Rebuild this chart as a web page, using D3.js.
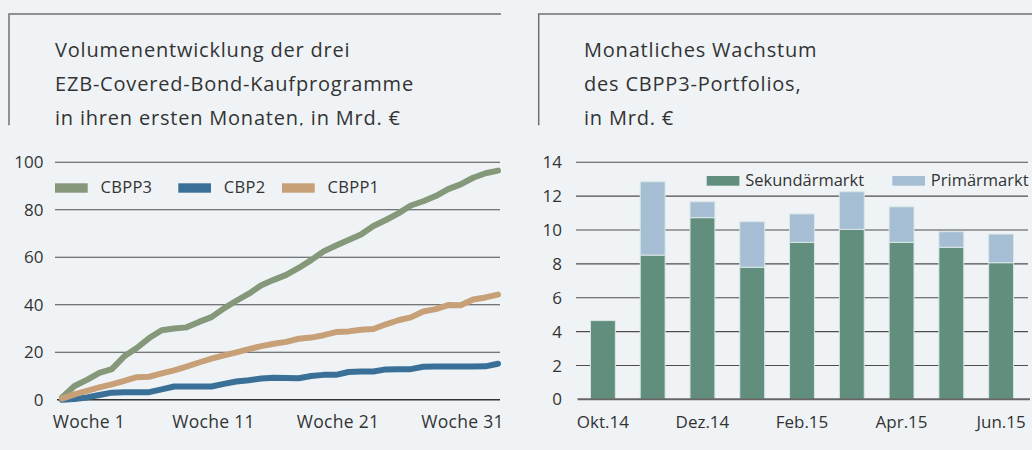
<!DOCTYPE html>
<html><head><meta charset="utf-8">
<script src="https://cdn.jsdelivr.net/npm/d3@7"></script>
<style>
body{margin:0;background:#eff3f6;}
svg{display:block;font-family:"Open Sans",sans-serif;}
</style></head><body>
<svg id="c" width="1032" height="450"></svg>
<script>
// ---------- Left chart data ----------
const weekIndex = [0,1,2,3,4,5,6,7,8,9,10,11,12,13,14,15,16,17,18,19,20,21,22,23,24,25,26,27,28,29,30,31,32,33,34,35];
const cbpp3 = [1,5.8,8.4,11.3,12.9,18.3,21.8,26,29.3,30,30.5,32.8,34.8,38.5,41.7,44.7,48.2,50.5,52.6,55.5,58.8,62.5,65,67.3,69.6,73.2,75.7,78.5,81.8,83.6,85.8,88.7,90.7,93.5,95.4,96.5];
const cbp2  = [0,0.3,1,2,3,3.2,3.2,3.2,4.4,5.6,5.6,5.6,5.6,6.7,7.7,8.2,9,9.3,9.2,9.1,10,10.5,10.5,11.7,11.9,11.9,12.8,12.9,12.9,13.9,14,14,14,14,14.1,15.2];
const cbpp1 = [0.5,2.3,3.8,5.2,6.5,8,9.5,9.7,11.1,12.4,14,15.7,17.3,18.7,20,21.3,22.6,23.6,24.4,25.7,26.2,27.2,28.5,28.8,29.5,29.8,31.8,33.5,34.7,37.2,38.2,39.9,39.8,42.2,43.1,44.3];
const weekTickIndex = [2,12,22,32];
const weekTickLabels = ["Woche 1","Woche 11","Woche 21","Woche 31"];
const leftYTicks = [0,20,40,60,80,100];
const leftSeriesNames = ["CBPP3","CBP2","CBPP1"];
const leftTitle = ["Volumenentwicklung der drei","EZB-Covered-Bond-Kaufprogramme","in ihren ersten Monaten, in Mrd. €"];

// ---------- Right chart data ----------
const months = ["Okt.14","Nov.14","Dez.14","Jan.15","Feb.15","Mrz.15","Apr.15","Mai.15","Jun.15"];
const sekundaer = [4.65,8.52,10.73,7.8,9.27,10.04,9.27,8.98,8.07];
const primaer   = [0,4.33,0.94,2.69,1.68,2.22,2.1,0.92,1.69];
const monthTickLabels = ["Okt.14","Dez.14","Feb.15","Apr.15","Jun.15"];
const rightYTicks = [0,2,4,6,8,10,12,14];
const rightSeriesNames = ["Sekundärmarkt","Primärmarkt"];
const rightTitle = ["Monatliches Wachstum","des CBPP3-Portfolios,","in Mrd. €"];

const svg = d3.select("#c");
const textCol = "#333";
const gridCol = "#4d4d4d";

// Title frames
function titleBlock(x0, x1, tx, lines, id){
  svg.append("clipPath").attr("id", id).append("rect")
    .attr("x", x0 - 2).attr("y", 0).attr("width", x1 - x0 + 4).attr("height", 125.5);
  const g = svg.append("g").attr("clip-path", `url(#${id})`);
  g.append("path").attr("d", `M${x0},125.5V14H${x1}`).attr("fill","none")
    .attr("stroke","#707070").attr("stroke-width",1.5);
  g.selectAll("text.t").data(lines).join("text").attr("class","t")
    .attr("x", tx).attr("y", (d,i) => 57 + i*34)
    .attr("fill", textCol).style("font-size","20px").style("letter-spacing","0.8px")
    .text(d => d);
}
titleBlock(9, 501, 55, leftTitle, "clipL");
titleBlock(538.7, 1034, 584, rightTitle, "clipR");

// ---------- Left chart ----------
const xL = d3.scaleLinear().domain([0, 35]).range([62, 498]);
const yL = d3.scaleLinear().domain([0, 100]).range([399.8, 162.3]);
const gL = svg.append("g");
gL.selectAll("line.grid").data(leftYTicks).join("line").attr("class","grid")
  .attr("x1", d => d === 0 ? 57 : 55).attr("x2", 500)
  .attr("y1", d => yL(d)).attr("y2", d => yL(d))
  .attr("stroke", d => d === 0 ? "#333" : gridCol).attr("stroke-width", d => d===0?1.6:1.1);
gL.selectAll("text.yt").data(leftYTicks).join("text").attr("class","yt")
  .attr("x", 43.5).attr("y", d => yL(d)).attr("dy","0.36em").attr("text-anchor","end")
  .attr("fill", textCol).style("font-size","17px").text(d => d);
gL.selectAll("text.xt").data(weekTickIndex).join("text").attr("class","xt")
  .attr("x", d => xL(d) + 2).attr("y", 428).attr("text-anchor","middle")
  .attr("fill", textCol).style("font-size","17.5px").style("letter-spacing","0.3px")
  .text((d,i) => weekTickLabels[i]);

const leftColors = ["#85987a","#3a7098","#c8a077"];
const leftData = [cbpp3, cbp2, cbpp1];
const line = d3.line().x((d,i) => xL(weekIndex[i])).y(d => yL(d));
gL.selectAll("path.s").data(leftData).join("path").attr("class","s")
  .attr("d", line).attr("fill","none")
  .attr("stroke", (d,i) => leftColors[i]).attr("stroke-width", 6)
  .attr("stroke-linecap","round").attr("stroke-linejoin","round");

// left legend
const legLX = [55, 178.3, 282];
const legL = gL.selectAll("g.leg").data(leftSeriesNames).join("g").attr("class","leg")
  .attr("transform", (d,i) => `translate(${legLX[i]},0)`);
legL.append("rect").attr("x",0).attr("y",183.3).attr("width",32.7).attr("height",9.4)
  .attr("fill", (d,i) => leftColors[i]);
legL.append("text").attr("x", 45.5).attr("y", 192.5).attr("fill", textCol)
  .style("font-size","16.5px").style("letter-spacing","0.3px").text(d => d);

// ---------- Right chart ----------
const xR = d3.scaleBand().domain(months).range([578, 1026]).paddingInner(0.5).paddingOuter(0.25);
const yR = d3.scaleLinear().domain([0, 14]).range([399.3, 162.3]);
const gR = svg.append("g");
gR.selectAll("line.grid").data(rightYTicks.filter(d => d > 0)).join("line").attr("class","grid")
  .attr("x1", 576).attr("x2", 1028)
  .attr("y1", d => yR(d)).attr("y2", d => yR(d))
  .attr("stroke", gridCol).attr("stroke-width", 1.1);
gR.selectAll("text.yt").data(rightYTicks).join("text").attr("class","yt")
  .attr("x", 562).attr("y", d => yR(d)).attr("dy","0.36em").attr("text-anchor","end")
  .attr("fill", textCol).style("font-size","17px").text(d => d);

const stack = d3.stack().keys([0,1]).value((d,k) => k === 0 ? d.s : d.p);
const rows = months.map((m,i) => ({m, s: sekundaer[i], p: primaer[i]}));
const layers = stack(rows);
const rightColors = ["#628e7e","#a6bed3"];
gR.selectAll("g.layer").data(layers).join("g").attr("class","layer")
  .attr("fill", (d,i) => rightColors[i])
  .selectAll("rect").data(d => d.filter(v => v[1] - v[0] > 0)).join("rect")
  .attr("x", d => xR(d.data.m)).attr("width", xR.bandwidth())
  .attr("y", d => yR(d[1])).attr("height", d => yR(d[0]) - yR(d[1]))
  .attr("stroke","#d9e6e6").attr("stroke-width",1);
gR.append("line").attr("x1",577.5).attr("x2",1030).attr("y1",yR(0)).attr("y2",yR(0))
  .attr("stroke","#666").attr("stroke-width",2);
gR.selectAll("text.xt").data(monthTickLabels).join("text").attr("class","xt")
  .attr("x", d => xR(d) + xR.bandwidth()/2).attr("y", 428).attr("text-anchor","middle")
  .attr("fill", textCol).style("font-size","17px").text(d => d);

const legRX = [706.7, 892.3];
const legR = gR.selectAll("g.leg").data(rightSeriesNames).join("g").attr("class","leg")
  .attr("transform", (d,i) => `translate(${legRX[i]},0)`);
legR.append("rect").attr("x",0).attr("y",176).attr("width",32.7).attr("height",9.7)
  .attr("fill", (d,i) => rightColors[i]);
legR.append("text").attr("x", 38.5).attr("y", 186).attr("fill", textCol)
  .style("font-size","16.5px").text(d => d);
</script>
</body></html>
